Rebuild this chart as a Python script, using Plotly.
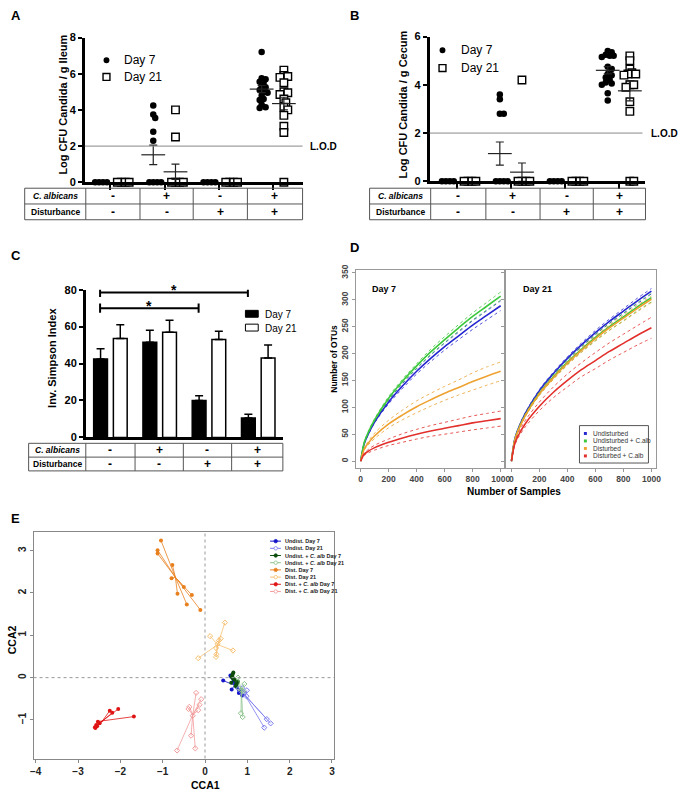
import plotly.graph_objects as go

W, H = 685, 798
FONT = "Liberation Sans, Arial, sans-serif"


def px(x):
    return x / W


def py(y):
    return 1 - y / H


# ---------------- data ----------------
calb_row = ["-", "+", "-", "+"]
dist_row = ["-", "-", "+", "+"]
row_names = ["<i>C. albicans</i>", "Disturbance"]
day_names = ["Day 7", "Day 21"]

# A: Log CFU Candida / g ileum (one list per group)
ileum_d7 = [
    [0, 0, 0, 0],
    [4.25, 3.75, 3.55, 2.8, 2.3, 0, 0, 0, 0],
    [0, 0, 0, 0],
    [7.2, 5.75, 5.7, 5.55, 5.5, 5.3, 5.25, 5.1, 5.0, 4.95, 4.8, 4.6, 4.55, 4.3, 4.15, 4.1],
]
ileum_d21 = [
    [0, 0, 0, 0],
    [4.0, 2.5, 0, 0, 0, 0],
    [0, 0, 0, 0],
    [6.2, 5.9, 5.85, 5.8, 5.5, 5.0, 4.95, 4.85, 4.6, 4.4, 4.15, 4.0, 3.7, 3.1, 2.75, 0.0],
]
ileum_mean_d7 = [0, 1.52, 0, 5.15]
ileum_sem_d7 = [0, 0.54, 0, 0.2]
ileum_mean_d21 = [0, 0.58, 0, 4.35]
ileum_sem_d21 = [0, 0.42, 0, 0.35]

# B: Log CFU Candida / g cecum
cecum_d7 = [
    [0, 0, 0, 0],
    [3.6, 3.4, 2.8, 2.8, 0, 0, 0, 0],
    [0, 0, 0, 0],
    [5.4, 5.35, 5.25, 5.2, 5.2, 5.15, 4.75, 4.65, 4.45, 4.4, 4.3, 4.2, 4.1, 4.05, 4.0, 3.65, 3.35],
]
cecum_d21 = [
    [0, 0, 0, 0],
    [4.2, 0, 0, 0, 0],
    [0, 0, 0, 0],
    [5.2, 5.0, 4.65, 4.5, 4.45, 4.45, 4.4, 4.0, 4.0, 3.9, 3.3, 2.9, 0.0, 0.0],
]
cecum_mean_d7 = [0, 1.15, 0, 4.6]
cecum_sem_d7 = [0, 0.48, 0, 0.15]
cecum_mean_d21 = [0, 0.38, 0, 3.75]
cecum_sem_d21 = [0, 0.38, 0, 0.42]
lod = 2

# C: inverse Simpson index
simpson_d7 = [42.5, 51.5, 20, 10.5]
simpson_d7_err = [5.5, 6.5, 2.5, 2]
simpson_d21 = [53.5, 57, 53, 43]
simpson_d21_err = [7.5, 6.5, 4.5, 7]
sig_pairs = [(0, 3, 78.5), (0, 2, 70)]

# D: rarefaction curves (mean and CI half width)
rare_names = ["Undisturbed", "Undisturbed + C.alb", "Disturbed", "Disturbed + C.alb"]
rare_x = [0, 25, 50, 100, 200, 300, 400, 500, 600, 700, 800, 900, 1000]
rare_d7 = [
    [0, 32, 48, 73, 110, 140, 167, 191, 213, 233, 253, 271, 289],
    [0, 34, 51, 77, 117, 149, 177, 203, 226, 248, 269, 288, 307],
    [0, 22, 32, 47, 69, 86, 101, 114, 126, 137, 148, 158, 167],
    [0, 12.5, 17.7, 25, 35, 43, 50, 56, 61, 66, 71, 75, 79],
]
rare_d7_ci = [
    [0, 1, 1.5, 2, 3.5, 4.5, 5, 6, 6.5, 7, 8, 8.5, 9],
    [0, 1, 1.5, 2, 3, 3.5, 4, 5, 5.5, 6, 6.5, 7, 7.5],
    [0, 2, 3, 5, 7, 9, 11, 12, 13, 14, 16, 17, 17.5],
    [0, 2, 3, 4.5, 6, 8, 9, 10, 11, 12, 13, 13.5, 14],
]
rare_d21 = [
    [0, 42, 61, 89, 131, 163, 191, 216, 239, 260, 279, 298, 316],
    [0, 40, 59, 86, 126, 157, 184, 208, 230, 250, 268, 287, 304],
    [0, 40, 58, 85, 125, 155, 182, 206, 228, 248, 266, 284, 301],
    [0, 33, 48, 70, 102, 128, 150, 170, 187, 204, 219, 234, 248],
]
rare_d21_ci = [
    [0, 1, 1, 1.5, 2, 2.5, 3, 3.5, 4, 4, 4.5, 5, 5],
    [0, 1, 1.5, 2, 3, 4, 4.5, 5, 6, 6.5, 7, 7.5, 8],
    [0, 1, 1.5, 2, 2.5, 3, 3.5, 4, 4.5, 5, 5.5, 6, 6],
    [0, 3, 4, 6, 8, 10, 12, 13, 15, 16, 17, 18, 19.5],
]

# E: CCA ordination, samples joined to their group centroid
cca_names = ["Undist. Day 7", "Undist. Day 21", "Undist. + <i>C. alb</i> Day 7",
             "Undist. + <i>C. alb</i> Day 21", "Dist. Day 7", "Dist. Day 21",
             "Dist. + <i>C. alb</i> Day 7", "Dist. + <i>C. alb</i> Day 21"]
cca_cx = [0.70, 0.95, 0.69, 0.86, -0.70, 0.30, -2.42, -0.29]
cca_cy = [-0.18, -0.42, -0.04, -0.30, 2.37, 0.78, -1.02, -0.88]
cca_x = [
    [0.43, 0.60, 0.63, 0.80, 0.88, 0.72, 0.68, 0.84, 0.62, 0.75],
    [0.99, 0.98, 1.46, 1.55, 1.40, 0.88, 0.92, 0.85],
    [0.67, 0.65, 0.63, 0.70, 0.62, 0.75, 0.72, 0.66, 0.78],
    [0.78, 0.93, 0.87, 0.85, 0.89, 0.80, 0.90],
    [-1.04, -1.12, -1.12, -0.77, -0.79, -0.50, -0.65, -0.31, -0.43, -0.11],
    [0.47, 0.12, 0.37, 0.33, 0.30, 0.66, 0.26, 0.27, 0.26, -0.16],
    [-1.68, -2.05, -2.25, -2.19, -2.53, -2.49, -2.57, -2.55, -2.59, -2.60],
    [-0.21, -0.09, -0.37, -0.39, -0.13, -0.16, -0.29, -0.33, -0.23, -0.66],
]
cca_y = [
    [-0.07, 0.05, -0.28, -0.36, -0.42, -0.15, -0.07, -0.30, 0.02, -0.22],
    [-0.30, -0.44, -0.98, -1.08, -1.18, -0.25, -0.38, -0.32],
    [0.12, 0.08, 0.02, -0.05, -0.12, -0.15, -0.20, -0.02, -0.10],
    [0.00, -0.15, -0.30, -0.84, -0.93, -0.25, -0.32],
    [3.24, 3.01, 2.93, 2.66, 2.35, 2.14, 1.98, 1.95, 1.73, 1.60],
    [1.30, 0.98, 0.92, 0.88, 0.80, 0.64, 0.70, 0.55, 0.49, 0.46],
    [-0.92, -0.74, -0.78, -0.83, -1.04, -1.08, -1.12, -1.15, -1.19, -1.17],
    [-0.36, -0.51, -0.69, -0.74, -0.64, -0.77, -0.90, -1.37, -1.67, -1.72],
]

# ---------------- styles ----------------
rare_colors = ["#2626d0", "#3cc83c", "#eea232", "#e2302c"]
cca_colors = ["#1414c8", "#7a7aee", "#0b4d0b", "#8cc48c",
              "#e8801e", "#f7c070", "#e01414", "#f29c9c"]
OFF = [-0.21, 0.2]

fig = go.Figure()
shapes = []
anns = []


def text(x, y, s, size=10, bold=False, xa="center", ya="middle", angle=0, color="black"):
    anns.append(dict(x=px(x), y=py(y), xref="paper", yref="paper", text=s, showarrow=False,
                     xanchor=xa, yanchor=ya, textangle=angle,
                     font=dict(family=FONT, size=size, color=color,
                               weight="bold" if bold else "normal")))


def line(x0, y0, x1, y1, color="black", width=1, dash="solid"):
    shapes.append(dict(type="line", xref="paper", yref="paper", x0=px(x0), y0=py(y0),
                       x1=px(x1), y1=py(y1), line=dict(color=color, width=width, dash=dash)))


def swarm(vals, ypx, step=2.0, gap=4.0):
    placed, offs = [], []
    for v in vals:
        k = 0
        while True:
            o = ((k + 1) // 2) * step * (1 if k % 2 else -1)
            if all((o - a) ** 2 + ((v - b) * ypx) ** 2 >= gap ** 2 for a, b in placed):
                break
            k += 1
        placed.append((o, v))
        offs.append(o)
    return offs


def cfu_panel(xa, ya, d7, d21, m7, s7, m21, s21, xpx, ypx):
    for day, groups in enumerate([d7, d21]):
        xs, ys = [], []
        for g, vals in enumerate(groups):
            offs = swarm(vals, ypx)
            xs += [g + OFF[day] + o / xpx for o in offs]
            ys += vals
        if day == 0:
            mk = dict(symbol="circle", size=6.5, color="black")
        else:
            mk = dict(symbol="square", size=7.5, color="white", line=dict(width=1.4, color="black"))
        fig.add_trace(go.Scatter(x=xs, y=ys, mode="markers", marker=mk, xaxis=xa, yaxis=ya,
                                 cliponaxis=False, showlegend=False))
    for day, (m, s) in enumerate([(m7, s7), (m21, s21)]):
        idx = [g for g in range(4) if m[g] > 0]
        fig.add_trace(go.Scatter(
            x=[g + OFF[day] for g in idx], y=[m[g] for g in idx], mode="markers",
            marker=dict(symbol="line-ew", size=17, line=dict(width=1.2, color="#222")),
            error_y=dict(type="data", array=[s[g] for g in idx], color="#222", thickness=1.2, width=4),
            xaxis=xa, yaxis=ya, cliponaxis=False, showlegend=False))


def table(cols, rows):
    for yv in rows:
        line(cols[0], yv, cols[-1], yv, color="#555")
    for xv in cols:
        line(xv, rows[0], xv, rows[-1], color="#555")
    for r, vals in enumerate([calb_row, dist_row]):
        yc = (rows[r] + rows[r + 1]) / 2
        text((cols[0] + cols[1]) / 2, yc, row_names[r], size=8.5, bold=True)
        for g, v in enumerate(vals):
            text((cols[g + 1] + cols[g + 2]) / 2, yc, v, size=12, bold=True)


# ---- A ----
cfu_panel("x", "y", ileum_d7, ileum_d21, ileum_mean_d7, ileum_sem_d7,
          ileum_mean_d21, ileum_sem_d21, 55, 147 / 8)
shapes.append(dict(type="line", xref="paper", yref="y", x0=px(82), x1=px(303), y0=lod, y1=lod,
                   line=dict(color="#888", width=1)))
anns.append(dict(x=px(308), y=lod, xref="paper", yref="y", text="L.O.D", showarrow=False,
                 xanchor="left", font=dict(family=FONT, size=10, weight="bold")))
table([21, 83, 138, 192, 247, 303], [185, 201, 217])
text(60, 100, "Log CFU Candida / g Ileum", size=11, bold=True, angle=-90)
shapes.append(dict(type="circle", xref="paper", yref="paper", x0=px(101), x1=px(107),
                   y0=py(52), y1=py(58), fillcolor="black", line=dict(width=0)))
shapes.append(dict(type="rect", xref="paper", yref="paper", x0=px(100.5), x1=px(107.5),
                   y0=py(68.5), y1=py(75.5), fillcolor="white", line=dict(width=1.4, color="black")))
text(120, 55, day_names[0], size=12, xa="left")
text(120, 72, day_names[1], size=12, xa="left")

# ---- B ----
cfu_panel("x2", "y2", cecum_d7, cecum_d21, cecum_mean_d7, cecum_sem_d7,
          cecum_mean_d21, cecum_sem_d21, 54.7, 147 / 6)
shapes.append(dict(type="line", xref="paper", yref="y2", x0=px(432), x1=px(648), y0=lod, y1=lod,
                   line=dict(color="#888", width=1)))
anns.append(dict(x=px(655), y=lod, xref="paper", yref="y2", text="L.O.D", showarrow=False,
                 xanchor="left", font=dict(family=FONT, size=10, weight="bold")))
table([371, 433, 489, 544, 598, 651], [185, 201, 217])
text(405, 100, "Log CFU Candida / g Cecum", size=11, bold=True, angle=-90)
shapes.append(dict(type="circle", xref="paper", yref="paper", x0=px(442), x1=px(448),
                   y0=py(42), y1=py(48), fillcolor="black", line=dict(width=0)))
shapes.append(dict(type="rect", xref="paper", yref="paper", x0=px(441.5), x1=px(448.5),
                   y0=py(59.5), y1=py(66.5), fillcolor="white", line=dict(width=1.4, color="black")))
text(462, 45, day_names[0], size=12, xa="left")
text(462, 63, day_names[1], size=12, xa="left")

# ---- C ----
for day, (vals, err, col) in enumerate([(simpson_d7, simpson_d7_err, "black"),
                                        (simpson_d21, simpson_d21_err, "white")]):
    fig.add_trace(go.Bar(
        x=[0, 1, 2, 3], y=vals, marker=dict(color=col, line=dict(color="black", width=1.5)),
        error_y=dict(type="data", array=err, arrayminus=[0] * 4, color="black", thickness=1.5, width=4),
        xaxis="x3", yaxis="y3", offsetgroup=str(day), showlegend=False))
for a, b, h in sig_pairs:
    x0, x1 = a + OFF[0], b + OFF[0]
    for seg in [(x0, h, x1, h), (x0, h - 2.5, x0, h + 2.5), (x1, h - 2.5, x1, h + 2.5)]:
        shapes.append(dict(type="line", xref="x3", yref="y3", x0=seg[0], y0=seg[1], x1=seg[2],
                           y1=seg[3], line=dict(color="black", width=2)))
    anns.append(dict(x=(x0 + x1) / 2, y=h + 1.2, xref="x3", yref="y3", text="*", showarrow=False,
                     yanchor="middle", font=dict(family=FONT, size=14, weight="bold")))
table([25, 83, 133, 182, 231, 283], [444, 458, 472])
text(48, 357, "Inv. Simpson Index", size=11, bold=True, angle=-90)
shapes.append(dict(type="rect", xref="paper", yref="paper", x0=px(245), x1=px(258),
                   y0=py(309), y1=py(316), fillcolor="black", line=dict(width=1, color="black")))
shapes.append(dict(type="rect", xref="paper", yref="paper", x0=px(245), x1=px(258),
                   y0=py(323), y1=py(330), fillcolor="white", line=dict(width=1, color="black")))
text(263, 313, day_names[0], size=10, xa="left")
text(263, 327, day_names[1], size=10, xa="left")

# ---- D ----
for xa, ya, means, cis in [("x4", "y4", rare_d7, rare_d7_ci), ("x5", "y5", rare_d21, rare_d21_ci)]:
    for i in range(4):
        up = [m + c for m, c in zip(means[i], cis[i])]
        lo = [m - c for m, c in zip(means[i], cis[i])]
        for ys in (up, lo):
            fig.add_trace(go.Scatter(x=rare_x, y=ys, mode="lines", xaxis=xa, yaxis=ya,
                                     line=dict(color=rare_colors[i], width=1, dash="dot", shape="spline"),
                                     opacity=0.8, showlegend=False))
        fig.add_trace(go.Scatter(x=rare_x, y=means[i], mode="lines", xaxis=xa, yaxis=ya,
                                 line=dict(color=rare_colors[i], width=1.6, shape="spline"),
                                 showlegend=False))
text(371, 287, "Day 7", size=9, bold=True, xa="left")
text(525, 287, "Day 21", size=9, bold=True, xa="left")
text(334, 358, "Number of OTUs", size=8.5, bold=True, angle=-90)
text(518, 493, "Number of Samples", size=10, bold=True)
shapes.append(dict(type="rect", xref="paper", yref="paper", x0=px(584), x1=px(654),
                   y0=py(426), y1=py(464), line=dict(color="#555", width=1)))
for i, name in enumerate(rare_names):
    yy = 434 + i * 7.6
    shapes.append(dict(type="rect", xref="paper", yref="paper", x0=px(588.5), x1=px(591.5),
                       y0=py(yy - 1.5), y1=py(yy + 1.5), fillcolor=rare_colors[i], line=dict(width=0)))
    text(596, yy, name, size=6.5, xa="left", color="#333")

# ---- E ----
for i in range(8):
    lx, ly = [], []
    for x, y in zip(cca_x[i], cca_y[i]):
        lx += [cca_cx[i], x, None]
        ly += [cca_cy[i], y, None]
    fig.add_trace(go.Scatter(x=lx, y=ly, mode="lines", xaxis="x6", yaxis="y6",
                             line=dict(color=cca_colors[i], width=0.8), showlegend=False))
    if i % 2 == 0:
        mk = dict(symbol="circle", size=4, color=cca_colors[i])
    else:
        mk = dict(symbol="diamond-open", size=4, color=cca_colors[i], line=dict(width=1))
    fig.add_trace(go.Scatter(x=cca_x[i], y=cca_y[i], mode="markers", xaxis="x6", yaxis="y6",
                             marker=mk, showlegend=False))
shapes.append(dict(type="line", xref="x6", yref="y6 domain", x0=0, x1=0, y0=0, y1=1,
                   line=dict(color="#999", width=1, dash="dot")))
shapes.append(dict(type="line", xref="x6 domain", yref="y6", x0=0, x1=1, y0=0, y1=0,
                   line=dict(color="#999", width=1, dash="dot")))
for i, name in enumerate(cca_names):
    yy = 543.3 + i * 7.3
    line(270, yy, 281, yy, color=cca_colors[i], width=1)
    shapes.append(dict(type="circle", xref="paper", yref="paper", x0=px(274), x1=px(277.5),
                       y0=py(yy - 1.75), y1=py(yy + 1.75),
                       fillcolor=cca_colors[i] if i % 2 == 0 else "white",
                       line=dict(color=cca_colors[i], width=0.8)))
    text(283, yy, name, size=5.5, bold=True, xa="left", color="#222")
text(204, 791, "CCA1", size=10.5, bold=True)
text(8, 643, "CCA2", size=10.5, bold=True, angle=-90)

# panel letters
for s, x, y in [("A", 12, 10), ("B", 356, 10), ("C", 12, 253), ("D", 356, 245), ("E", 12, 520)]:
    text(x, y, s, size=13, bold=True)

# ---------------- axes ----------------
BF = dict(family=FONT, size=11, color="black", weight="bold")


def cfu_x(dom, rng, anchor):
    return dict(domain=dom, range=rng, anchor=anchor, showline=True, linewidth=2.5, linecolor="black",
                ticks="outside", tickvals=[0, 1, 2, 3], ticklen=5, tickwidth=2, tickcolor="black",
                showticklabels=False, showgrid=False, zeroline=False)


def cfu_y(dom, rng, tv, anchor):
    return dict(domain=dom, range=rng, anchor=anchor, showline=True, linewidth=2.5, linecolor="black",
                ticks="outside", tickvals=tv, ticklen=4, tickwidth=2, tickcolor="black",
                tickfont=BF, showgrid=False, zeroline=False)


GF = dict(family=FONT, size=8.5, color="#444", weight="bold")


def frame(dom, rng, anchor, tv, labels=True, angle=0, font=GF, color="#999"):
    return dict(domain=dom, range=rng, anchor=anchor, showline=True, mirror=True, linewidth=1,
                linecolor=color, ticks="outside", ticklen=3, tickcolor=color, tickvals=tv,
                showticklabels=labels, tickangle=angle, tickfont=font,
                showgrid=False, zeroline=False)


EF = dict(family=FONT, size=10, color="#222", weight="bold")

fig.update_layout(
    width=W, height=H, margin=dict(l=0, r=0, t=0, b=0),
    paper_bgcolor="white", plot_bgcolor="white",
    font=dict(family=FONT, color="black"),
    barmode="group", bargap=0.2, bargroupgap=0.3,
    xaxis=cfu_x([px(82), px(303)], [-0.473, 3.545], "y"),
    yaxis=cfu_y([py(179), py(32)], [0, 8], [0, 2, 4, 6, 8], "x"),
    xaxis2=cfu_x([px(432), px(651)], [-0.51, 3.49], "y2"),
    yaxis2=cfu_y([py(178), py(31)], [0, 6], [0, 2, 4, 6], "x2"),
    xaxis3=dict(domain=[px(83), px(283)], range=[-0.5, 3.5], anchor="y3", showline=True, linewidth=2.5,
                linecolor="black", showticklabels=False, showgrid=False, zeroline=False),
    yaxis3=cfu_y([py(438), py(288)], [0, 80], [0, 20, 40, 60, 80], "x3"),
    xaxis4=frame([px(357), px(508)], [-35, 1028], "y4", [0, 200, 400, 600, 800, 1000]),
    yaxis4=frame([py(469), py(268)], [-12.8, 355.5], "x4", list(range(0, 351, 50)), angle=-90),
    xaxis5=frame([px(508), px(662)], [-49, 1035], "y5", [0, 200, 400, 600, 800, 1000]),
    yaxis5=frame([py(469), py(268)], [-12.8, 355.5], "x5", list(range(0, 351, 50)), labels=False),
    xaxis6=frame([px(30), px(335)], [-4.05, 3.05], "y6", [-4, -3, -2, -1, 0, 1, 2, 3],
                 font=EF, color="#888"),
    yaxis6=frame([py(764), py(534)], [-1.91, 3.44], "x6", [-1, 0, 1, 2, 3], angle=-90,
                 font=EF, color="#888"),
    shapes=shapes, annotations=anns,
)

# the page body has a default 8px margin; drop it so the figure sits at the window origin
fig.write_html("out.html", config={"displayModeBar": False},
               post_script="document.body.style.margin='0px';")
